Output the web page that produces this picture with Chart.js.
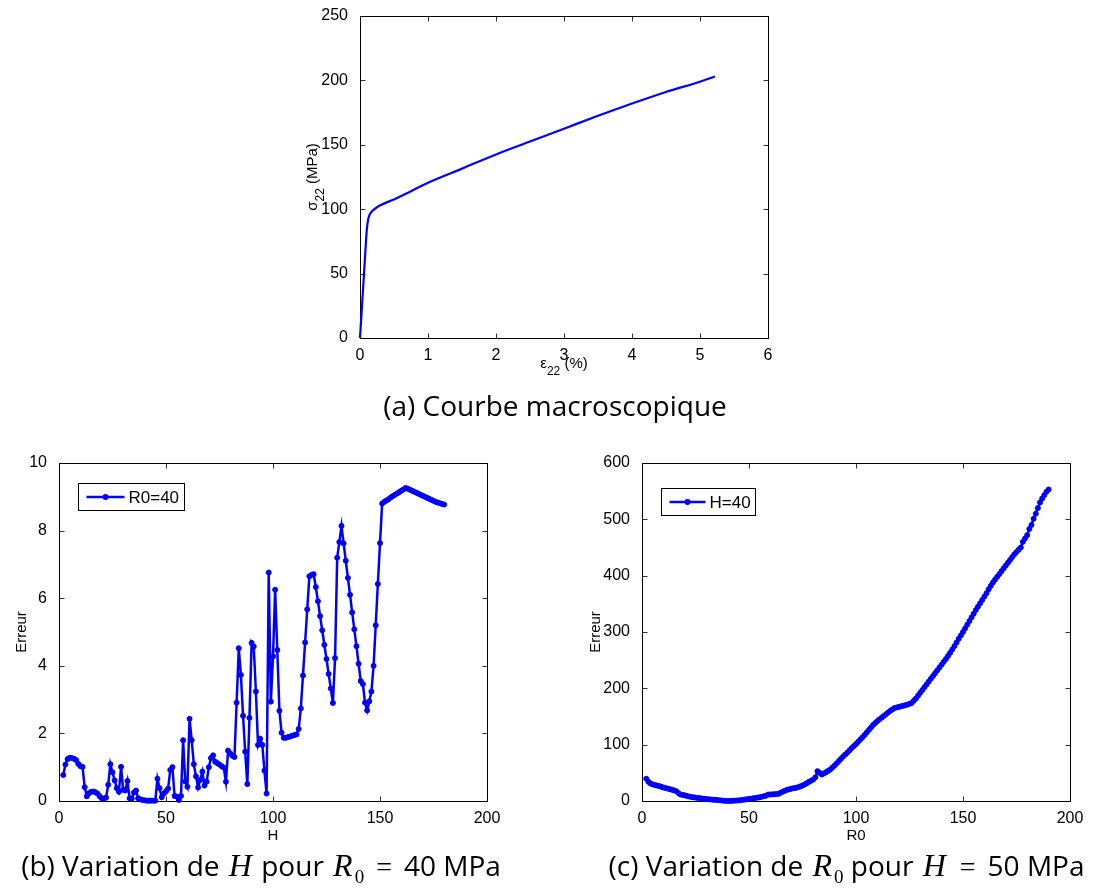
<!DOCTYPE html>
<html>
<head>
<meta charset="utf-8">
<script src="https://cdn.jsdelivr.net/npm/chart.js@4/dist/chart.umd.min.js"></script>
<style>
	body { margin: 0; background: #fff; width: 1103px; height: 893px; position: relative; overflow: hidden; }
	.plot { position: absolute; }
	.caption { position: absolute; font-family: "Open Sans", sans-serif; font-size: 28px; color: #000; text-align: center; white-space: nowrap; }
	.caption .m { font-family: "Liberation Serif", serif; font-style: italic; font-size: 32px; margin: 0 2px; }
	.caption .eq { font-family: "Liberation Serif", serif; margin: 0 12px; }
	.caption sub { font-family: "Liberation Serif", serif; font-style: normal; font-size: 19px; }
</style>
</head>
<body>
<div class="plot" style="left:290px;top:0;width:510px;height:400px"><canvas id="chartA"></canvas></div>
<div class="plot" style="left:0;top:440px;width:510px;height:410px"><canvas id="chartB"></canvas></div>
<div class="plot" style="left:583px;top:440px;width:510px;height:410px"><canvas id="chartC"></canvas></div>

<div class="caption" style="left:355px;top:386px;width:400px">(a) Courbe macroscopique</div>
<div class="caption" style="left:0;top:846px;width:522px">(b) Variation de <span class="m">H</span> pour <span class="m">R</span><sub>0</sub><span class="eq">=</span>40 MPa</div>
<div class="caption" style="left:590px;top:846px;width:513px">(c) Variation de <span class="m">R</span><sub>0</sub> pour <span class="m">H</span><span class="eq">=</span>50 MPa</div>

<script>
// (a) courbe macroscopique
const strainA = [0, 0.02, 0.04, 0.06, 0.08, 0.1, 0.12, 0.14, 0.17, 0.2, 0.25, 0.3, 0.4, 0.5, 0.75, 1, 1.5, 2, 2.5, 3, 3.5, 4, 4.5, 5, 5.22];
const stressA = [0, 17, 34, 51, 68, 84, 92, 95.5, 98, 99.5, 101.5, 103, 105.5, 107.5, 114, 120.5, 131.5, 142.5, 152.5, 162.5, 172.5, 182, 191, 199, 203];

// (b) variation de H pour R0 = 40
const hValues = [
	2, 3, 4, 5, 6, 7, 8, 9, 10, 11, 12, 13, 14, 15, 16, 17, 18, 19, 20, 21,
	22, 23, 24, 25, 26, 27, 28, 29, 30, 31, 32, 33, 34, 35, 36, 37, 38, 39, 40, 41,
	42, 43, 44, 45, 46, 47, 48, 49, 50, 51, 52, 53, 54, 55, 56, 57, 58, 59, 60, 61,
	62, 63, 64, 65, 66, 67, 68, 69, 70, 71, 72, 73, 74, 75, 76, 77, 78, 79, 80, 81,
	82, 83, 84, 85, 86, 87, 88, 89, 90, 91, 92, 93, 94, 95, 96, 97, 98, 99, 100, 101,
	102, 103, 104, 105, 106, 107, 108, 109, 110, 111, 112, 113, 114, 115, 116, 117, 118, 119, 120, 121,
	122, 123, 124, 125, 126, 127, 128, 129, 130, 131, 132, 133, 134, 135, 136, 137, 138, 139, 140, 141,
	142, 143, 144, 145, 146, 147, 148, 149, 150, 151, 152, 153, 154, 155, 156, 157, 158, 159, 160, 161,
	162, 163, 164, 165, 166, 167, 168, 169, 170, 171, 172, 173, 174, 175, 176, 177, 178, 179, 180
];
const erreurB = [
	0.77, 1.08, 1.24, 1.28, 1.27, 1.25, 1.21, 1.1, 1.03, 1.01, 0.41, 0.14, 0.23, 0.27, 0.28, 0.26, 0.22, 0.14, 0.08, 0.07,
	0.1, 0.48, 1.09, 0.85, 0.61, 0.38, 0.27, 1.01, 0.33, 0.31, 0.59, 0.08, 0.07, 0.25, 0.31, 0.08, 0.05, 0.03, 0.02, 0.01,
	0.01, 0.01, 0.01, 0.01, 0.66, 0.38, 0.11, 0.22, 0.29, 0.37, 0.92, 1.0, 0.15, 0.13, 0.03, 0.15, 1.8, 0.58, 0.42, 2.43,
	1.8, 1.09, 0.73, 0.4, 0.62, 0.87, 0.46, 0.57, 1.0, 1.27, 1.35, 1.16, 1.12, 1.08, 1.03, 0.99, 0.57, 1.49, 1.41, 1.34,
	1.3, 2.91, 4.52, 3.73, 2.52, 1.46, 0.5, 2.46, 4.68, 4.57, 3.24, 1.66, 1.84, 1.66, 0.9, 0.22, 6.76, 2.94, 4.28, 6.25,
	4.47, 2.67, 2.02, 1.87, 1.87, 1.89, 1.91, 1.93, 1.95, 1.97, 2.13, 2.74, 3.71, 4.69, 5.67, 6.65, 6.69, 6.71, 6.33, 5.91,
	5.47, 5.05, 4.62, 4.2, 3.76, 3.33, 2.9, 4.23, 7.2, 7.66, 8.14, 7.62, 7.11, 6.6, 6.1, 5.58, 5.08, 4.58, 4.06, 3.55,
	3.46, 2.91, 2.68, 2.95, 3.24, 4.0, 5.2, 6.42, 7.63, 8.8, 8.85, 8.89, 8.93, 8.98, 9.02, 9.06, 9.1, 9.14, 9.18, 9.22,
	9.26, 9.24, 9.21, 9.18, 9.15, 9.12, 9.09, 9.06, 9.03, 9.0, 8.97, 8.94, 8.91, 8.88, 8.85, 8.83, 8.81, 8.79, 8.77
];

// (c) variation de R0 pour H = 50
const r0Values = [
	2, 3, 4, 5, 6, 7, 8, 9, 10, 11, 12, 13, 14, 15, 16, 17, 18, 19, 20, 21,
	22, 23, 24, 25, 26, 27, 28, 29, 30, 31, 32, 33, 34, 35, 36, 37, 38, 39, 40, 41,
	42, 43, 44, 45, 46, 47, 48, 49, 50, 51, 52, 53, 54, 55, 56, 57, 58, 59, 60, 61,
	62, 63, 64, 65, 66, 67, 68, 69, 70, 71, 72, 73, 74, 75, 76, 77, 78, 79, 80, 81,
	82, 83, 84, 85, 86, 87, 88, 89, 90, 91, 92, 93, 94, 95, 96, 97, 98, 99, 100, 101,
	102, 103, 104, 105, 106, 107, 108, 109, 110, 111, 112, 113, 114, 115, 116, 117, 118, 119, 120, 121,
	122, 123, 124, 125, 126, 127, 128, 129, 130, 131, 132, 133, 134, 135, 136, 137, 138, 139, 140, 141,
	142, 143, 144, 145, 146, 147, 148, 149, 150, 151, 152, 153, 154, 155, 156, 157, 158, 159, 160, 161,
	162, 163, 164, 165, 166, 167, 168, 169, 170, 171, 172, 173, 174, 175, 176, 177, 178, 179, 180, 181,
	182, 183, 184, 185, 186, 187, 188, 189, 190
];
const erreurC = [
	39.6, 34, 31, 29.5, 28.5, 27.5, 26.5, 25.2, 24, 23, 22, 21, 20, 18.8, 17.5, 14, 11.5, 10.8, 10, 9,
	8, 7.2, 6.6, 6, 5.5, 5, 4.5, 4, 3.5, 3.1, 2.8, 2.4, 2, 1.7, 1.4, 1, 0.6, 0.3, 0.2, 0.2,
	0.3, 0.5, 0.8, 1.1, 1.5, 2, 2.5, 3, 3.5, 4.1, 4.8, 5.4, 6, 6.7, 7.5, 8.5, 9.5, 11.5, 11.5, 11.8,
	12, 12.5, 13, 15, 17, 18.5, 20, 21, 22, 22.8, 23.5, 24.5, 26, 27.5, 29.5, 31.5, 34, 36, 38, 42,
	53, 50, 47, 49, 51, 53.5, 56, 59.5, 63, 67, 71, 75, 79, 82.5, 86, 90, 94, 97.5, 101, 105,
	109, 113, 117, 121.5, 126, 130.5, 135, 138.5, 142, 145, 148, 151, 154, 157, 160, 162.5, 165, 166, 167, 168,
	169, 170, 171, 172.5, 174, 178, 182, 187, 192, 197, 202, 207, 212, 217, 222, 227, 232, 237, 242, 247,
	252, 257.5, 263, 269, 275, 281.5, 288, 294, 300, 306.5, 313, 319.5, 326, 332.5, 339, 345, 351, 357, 363, 369,
	376, 382, 388, 393, 398, 403, 408, 413, 418, 423, 428, 433, 438, 442, 446, 450, 460, 466, 472, 483,
	490, 501, 510, 520, 530, 537, 543, 549, 553
];

const blue = "#0000ff";
const sansFont = "'Liberation Sans', Arial, sans-serif";

Chart.defaults.font.family = sansFont;
Chart.defaults.color = "#000";

function pairs(xs, ys) {
	return xs.map((x, i) => ({ x: x, y: ys[i] }));
}

// cadre noir + graduations vers l'interieur, sur les quatre cotes
const matlabFrame = {
	id: "matlabFrame",
	beforeDatasetsDraw(chart) {
		const { ctx, chartArea: a, scales } = chart;
		const l = Math.round(a.left) + 0.5, t = Math.round(a.top) + 0.5;
		const r = Math.round(a.right) + 0.5, b = Math.round(a.bottom) + 0.5;
		ctx.save();
		ctx.lineWidth = 1;
		ctx.strokeStyle = "#333";
		ctx.beginPath();
		scales.x.ticks.forEach((tk) => {
			const px = Math.round(scales.x.getPixelForValue(tk.value)) + 0.5;
			ctx.moveTo(px, b); ctx.lineTo(px, b - 5);
			ctx.moveTo(px, t); ctx.lineTo(px, t + 5);
		});
		scales.y.ticks.forEach((tk) => {
			const py = Math.round(scales.y.getPixelForValue(tk.value)) + 0.5;
			ctx.moveTo(l, py); ctx.lineTo(l + 5, py);
			ctx.moveTo(r, py); ctx.lineTo(r - 5, py);
		});
		ctx.stroke();
		ctx.strokeStyle = "#000";
		ctx.strokeRect(l, t, r - l, b - t);
		ctx.restore();
	},
};

// legende facon matlab, dans le coin haut gauche
const matlabLegend = {
	id: "matlabLegend",
	afterDatasetsDraw(chart, args, opts) {
		if (!opts || !opts.show) return;
		const ds = chart.data.datasets[0];
		const { ctx, chartArea: a } = chart;
		ctx.save();
		ctx.font = "17px " + sansFont;
		const tw = ctx.measureText(ds.label).width;
		const left = Math.round(a.left + opts.dx) + 0.5;
		const top = Math.round(a.top + opts.dy) + 0.5;
		const w = Math.round(8 + opts.lineLen + 4 + tw + 5);
		const h = 27;
		ctx.fillStyle = "#fff";
		ctx.fillRect(left, top, w, h);
		ctx.strokeStyle = "#000";
		ctx.lineWidth = 1;
		ctx.strokeRect(left, top, w, h);
		const cy = top + h / 2;
		ctx.strokeStyle = blue;
		ctx.lineWidth = 2.5;
		ctx.beginPath();
		ctx.moveTo(left + 8, cy);
		ctx.lineTo(left + 8 + opts.lineLen, cy);
		ctx.stroke();
		ctx.fillStyle = blue;
		ctx.beginPath();
		ctx.arc(left + 8 + opts.lineLen / 2, cy, 3, 0, 2 * Math.PI);
		ctx.fill();
		ctx.fillStyle = "#000";
		ctx.textBaseline = "middle";
		ctx.textAlign = "left";
		ctx.fillText(ds.label, left + 8 + opts.lineLen + 4, cy + 1);
		ctx.restore();
	},
};

// titres d'axes avec indice (sigma_22, epsilon_22)
function drawSub(ctx, cx, base, parts) {
	const big = "15px " + sansFont, small = "12px " + sansFont;
	ctx.font = big;
	const w0 = ctx.measureText(parts[0]).width;
	const w2 = ctx.measureText(parts[2]).width;
	ctx.font = small;
	const w1 = ctx.measureText(parts[1]).width;
	let x = cx - (w0 + w1 + w2) / 2;
	ctx.fillStyle = "#000";
	ctx.textAlign = "left";
	ctx.textBaseline = "alphabetic";
	ctx.font = big;
	ctx.fillText(parts[0], x, base);
	x += w0;
	ctx.font = small;
	ctx.fillText(parts[1], x, base + 7);
	x += w1;
	ctx.font = big;
	ctx.fillText(parts[2], x, base);
}

const subTitles = {
	id: "subTitles",
	afterDraw(chart, args, opts) {
		if (!opts || !opts.show) return;
		const { ctx, chartArea: a } = chart;
		ctx.save();
		drawSub(ctx, (a.left + a.right) / 2, a.bottom + opts.xOffset, opts.xParts);
		ctx.translate(a.left - opts.yOffset, (a.top + a.bottom) / 2);
		ctx.rotate(-Math.PI / 2);
		drawSub(ctx, 0, 0, opts.yParts);
		ctx.restore();
	},
};

function axis(min, max, step, size, title, titlePad) {
	return {
		type: "linear",
		min: min,
		max: max,
		grid: { display: false },
		border: { display: false },
		ticks: { stepSize: step, padding: 0, maxRotation: 0, autoSkip: false, color: "#000", font: { size: 16 } },
		title: title
			? { display: true, text: title, color: "#000", font: { size: 15 }, padding: titlePad }
			: { display: false },
		afterFit: (scale) => {
			if (scale.isHorizontal()) scale.height = size;
			else scale.width = size;
		},
	};
}

function yAxis(min, max, step, size, title, titlePad) {
	const s = axis(min, max, step, size, title, titlePad);
	s.ticks.padding = 4;
	return s;
}

function lineOptions(pad, xScale, yScale, legend, sub) {
	return {
		responsive: true,
		maintainAspectRatio: false,
		animation: false,
		layout: { padding: pad },
		scales: { x: xScale, y: yScale },
		plugins: {
			legend: { display: false },
			tooltip: { enabled: false },
			matlabLegend: legend,
			subTitles: sub,
		},
	};
}

new Chart(document.getElementById("chartA"), {
	type: "line",
	data: {
		datasets: [
			{
				label: "sigma22",
				data: pairs(strainA, stressA),
				borderColor: blue,
				borderWidth: 2.2,
				pointRadius: 0,
				cubicInterpolationMode: "monotone",
				clip: false,
			},
		],
	},
	options: lineOptions(
		{ top: 16, right: 32, left: 0, bottom: 0 },
		axis(0, 6, 1, 62),
		yAxis(0, 250, 50, 70),
		{ show: false },
		{ show: true, xOffset: 30, yOffset: 43, xParts: ["\u03b5", "22", " (%)"], yParts: ["\u03c3", "22", " (MPa)"] }
	),
	plugins: [matlabFrame, subTitles],
});

new Chart(document.getElementById("chartB"), {
	type: "line",
	data: {
		datasets: [
			{
				label: "R0=40",
				data: pairs(hValues, erreurB),
				borderColor: blue,
				backgroundColor: blue,
				borderWidth: 2.5,
				pointRadius: 2.5,
				pointBorderWidth: 1,
				pointBackgroundColor: blue,
				pointBorderColor: blue,
				clip: false,
			},
		],
	},
	options: lineOptions(
		{ top: 23, right: 23, left: 0, bottom: 0 },
		axis(0, 200, 50, 49, "H", { top: 0, bottom: 5 }),
		yAxis(0, 10, 2, 59, "Erreur", { top: 13, bottom: 0 }),
		{ show: true, dx: 19, dy: 20, lineLen: 38 },
		{ show: false }
	),
	plugins: [matlabFrame, matlabLegend],
});

new Chart(document.getElementById("chartC"), {
	type: "line",
	data: {
		datasets: [
			{
				label: "H=40",
				data: pairs(r0Values, erreurC),
				borderColor: blue,
				backgroundColor: blue,
				borderWidth: 2.5,
				pointRadius: 2.5,
				pointBorderWidth: 1,
				pointBackgroundColor: blue,
				pointBorderColor: blue,
				clip: false,
			},
		],
	},
	options: lineOptions(
		{ top: 23, right: 23, left: 0, bottom: 0 },
		axis(0, 200, 50, 49, "R0", { top: 0, bottom: 5 }),
		yAxis(0, 600, 100, 59, "Erreur", { top: 4, bottom: 0 }),
		{ show: true, dx: 19, dy: 25, lineLen: 36 },
		{ show: false }
	),
	plugins: [matlabFrame, matlabLegend],
});
</script>
</body>
</html>
